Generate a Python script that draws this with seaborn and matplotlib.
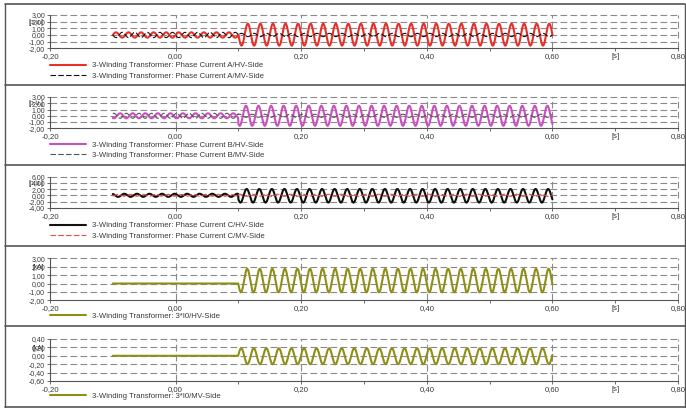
import numpy as np
import pandas as pd
import matplotlib
matplotlib.use("Agg")
import matplotlib.pyplot as plt
from matplotlib.lines import Line2D
import seaborn as sns

# ---------------- data ----------------
t_start, t_fault, t_end = -0.10, 0.10, 0.60
freq_hz = 50.0

series_names = [
    "3-Winding Transformer: Phase Current A/HV-Side",
    "3-Winding Transformer: Phase Current A/MV-Side",
    "3-Winding Transformer: Phase Current B/HV-Side",
    "3-Winding Transformer: Phase Current B/MV-Side",
    "3-Winding Transformer: Phase Current C/HV-Side",
    "3-Winding Transformer: Phase Current C/MV-Side",
    "3-Winding Transformer: 3*I0/HV-Side",
    "3-Winding Transformer: 3*I0/MV-Side",
]
series_panel = [0, 0, 1, 1, 2, 2, 3, 4]
pre_amp = [0.40, 0.40, 0.40, 0.40, 0.50, 0.30, 0.00, 0.00]
pre_phase_deg = [0, 180, 240, 60, 120, 300, 0, 0]
post_amp = [1.65, 0.25, 1.60, 0.25, 2.20, 0.35, 1.40, 0.19]
post_phase_deg = [180, 0, 234, 54, 212, 32, 198, 10]
post_offset = [0.05, 0.0, 0.0, 0.0, -0.15, 0.0, 0.35, -0.01]

series_colors = ["#e8302a", "#111111", "#cc4fc0", "#555555",
                 "#111111", "#ee4a44", "#8f8f17", "#8f8f17"]
series_styles = ["-", (0, (5, 2)), "-", (0, (5, 2)), "-", (0, (5, 2)), "-", "-"]
series_widths = [1.5, 0.8, 1.5, 0.8, 1.5, 0.8, 1.5, 1.5]

panel_ylim = [(-2, 3), (-2, 3), (-4, 6), (-2, 3), (-0.6, 0.4)]
panel_ystep = [1.0, 1.0, 2.0, 1.0, 0.2]
panel_unit = ["[p.u.]", "[p.u.]", "[p.u.]", "[kA]", "[kA]"]

x_ticks = [-0.20, 0.00, 0.20, 0.40, 0.60, 0.70, 0.80]
x_ticklabels = ["-0,20", "0,00", "0,20", "0,40", "0,60", "[s]", "0,80"]

# ---------------- build the signals ----------------
t = np.round(np.arange(t_start, t_end + 1e-9, 0.0004), 6)
rows = []
w = 2 * np.pi * freq_hz
for i, name in enumerate(series_names):
    pre = pre_amp[i] * np.sin(w * t + np.deg2rad(pre_phase_deg[i]))
    post = post_offset[i] + post_amp[i] * np.sin(w * (t - t_fault) + np.deg2rad(post_phase_deg[i]))
    y = np.where(t < t_fault, pre, post)
    rows.append(pd.DataFrame({"t": t, "value": y, "series": name}))
df = pd.concat(rows, ignore_index=True)

# ---------------- figure ----------------
sns.set_theme(style="white")
plt.rcParams["font.family"] = ["Liberation Sans", "DejaVu Sans"]

W, H = 686, 408
fig = plt.figure(figsize=(W / 100, H / 100), dpi=100)

panel_px = [(15, 48.3), (97, 128.3), (176.7, 207.7), (258.3, 300.3), (339, 381)]
legend_px = [62, 141.5, 222, 312.5, 392.5]
x0_px, x1_px = 50, 678

grid_col = "#8a8a8a"
txt_col = "#3a3a3a"


def fmt(v, nd=2):
    s = f"{v:.{nd}f}"
    if s.startswith("-0") and float(s) == 0:
        s = s[1:]
    return s.replace(".", ",")


for p in range(5):
    top, bot = panel_px[p]
    ax = fig.add_axes([x0_px / W, 1 - bot / H, (x1_px - x0_px) / W, (bot - top) / H])
    ymin, ymax = panel_ylim[p]
    ax.set_xlim(-0.2, 0.8)
    ax.set_ylim(ymin, ymax)

    # grid
    yt = np.round(np.arange(ymin, ymax + 1e-9, panel_ystep[p]), 4)
    for yv in yt[1:]:
        ax.axhline(yv, color=grid_col, lw=0.8, ls=(0, (6, 3)), clip_on=False, zorder=0)
    for xv in [0.0, 0.2, 0.4, 0.6, 0.8]:
        ax.axvline(xv, color=grid_col, lw=0.8, ls=(0, (6, 3)), clip_on=False, zorder=0)

    for i, name in enumerate(series_names):
        if series_panel[i] != p:
            continue
        sub = df[df["series"] == name]
        sns.lineplot(data=sub, x="t", y="value", ax=ax, color=series_colors[i],
                     linestyle=series_styles[i], linewidth=series_widths[i],
                     label=name, estimator=None, sort=False, zorder=3)

    ax.set_xlabel("")
    ax.set_ylabel("")
    for s in ["top", "right"]:
        ax.spines[s].set_visible(False)
    for s in ["left", "bottom"]:
        ax.spines[s].set_color("#555555")
        ax.spines[s].set_linewidth(0.8)

    ax.set_yticks(yt)
    ax.set_yticklabels([fmt(v, 2) for v in yt])
    ax.set_xticks(x_ticks)
    ax.set_xticklabels(x_ticklabels)
    ax.set_xticks([0.1, 0.3, 0.5], minor=True)
    ax.tick_params(axis="both", which="both", direction="out", length=2.5, width=0.6,
                   colors="#555555", labelcolor=txt_col, labelsize=5.6, pad=1.2,
                   left=True, bottom=True)
    ax.tick_params(axis="y", which="both", labelsize=5.0, pad=1.0)
    ax.tick_params(axis="x", which="minor", length=1.8)

    ax.text(-0.010, 0.78, panel_unit[p], transform=ax.transAxes, ha="right", va="center",
            fontsize=4.8, color=txt_col)

    leg = ax.legend(loc="upper left", bbox_to_anchor=(50 / W, 1 - legend_px[p] / H),
                    bbox_transform=fig.transFigure, frameon=False, fontsize=5.6,
                    handlelength=4.6, handletextpad=0.8, labelspacing=0.35,
                    borderpad=0, borderaxespad=0)
    for tx in leg.get_texts():
        tx.set_color(txt_col)

# frames / separators
frame_col = "#555555"
for yp in [4, 84.5, 165, 245.5, 326, 407]:
    fig.add_artist(Line2D([5 / W, 685 / W], [1 - yp / H, 1 - yp / H],
                          color=frame_col, lw=1.2, transform=fig.transFigure))
for xp in [5, 685]:
    fig.add_artist(Line2D([xp / W, xp / W], [1 - 4 / H, 1 - 407 / H],
                          color=frame_col, lw=1.0, transform=fig.transFigure))

fig.savefig("out.png", dpi=100)
